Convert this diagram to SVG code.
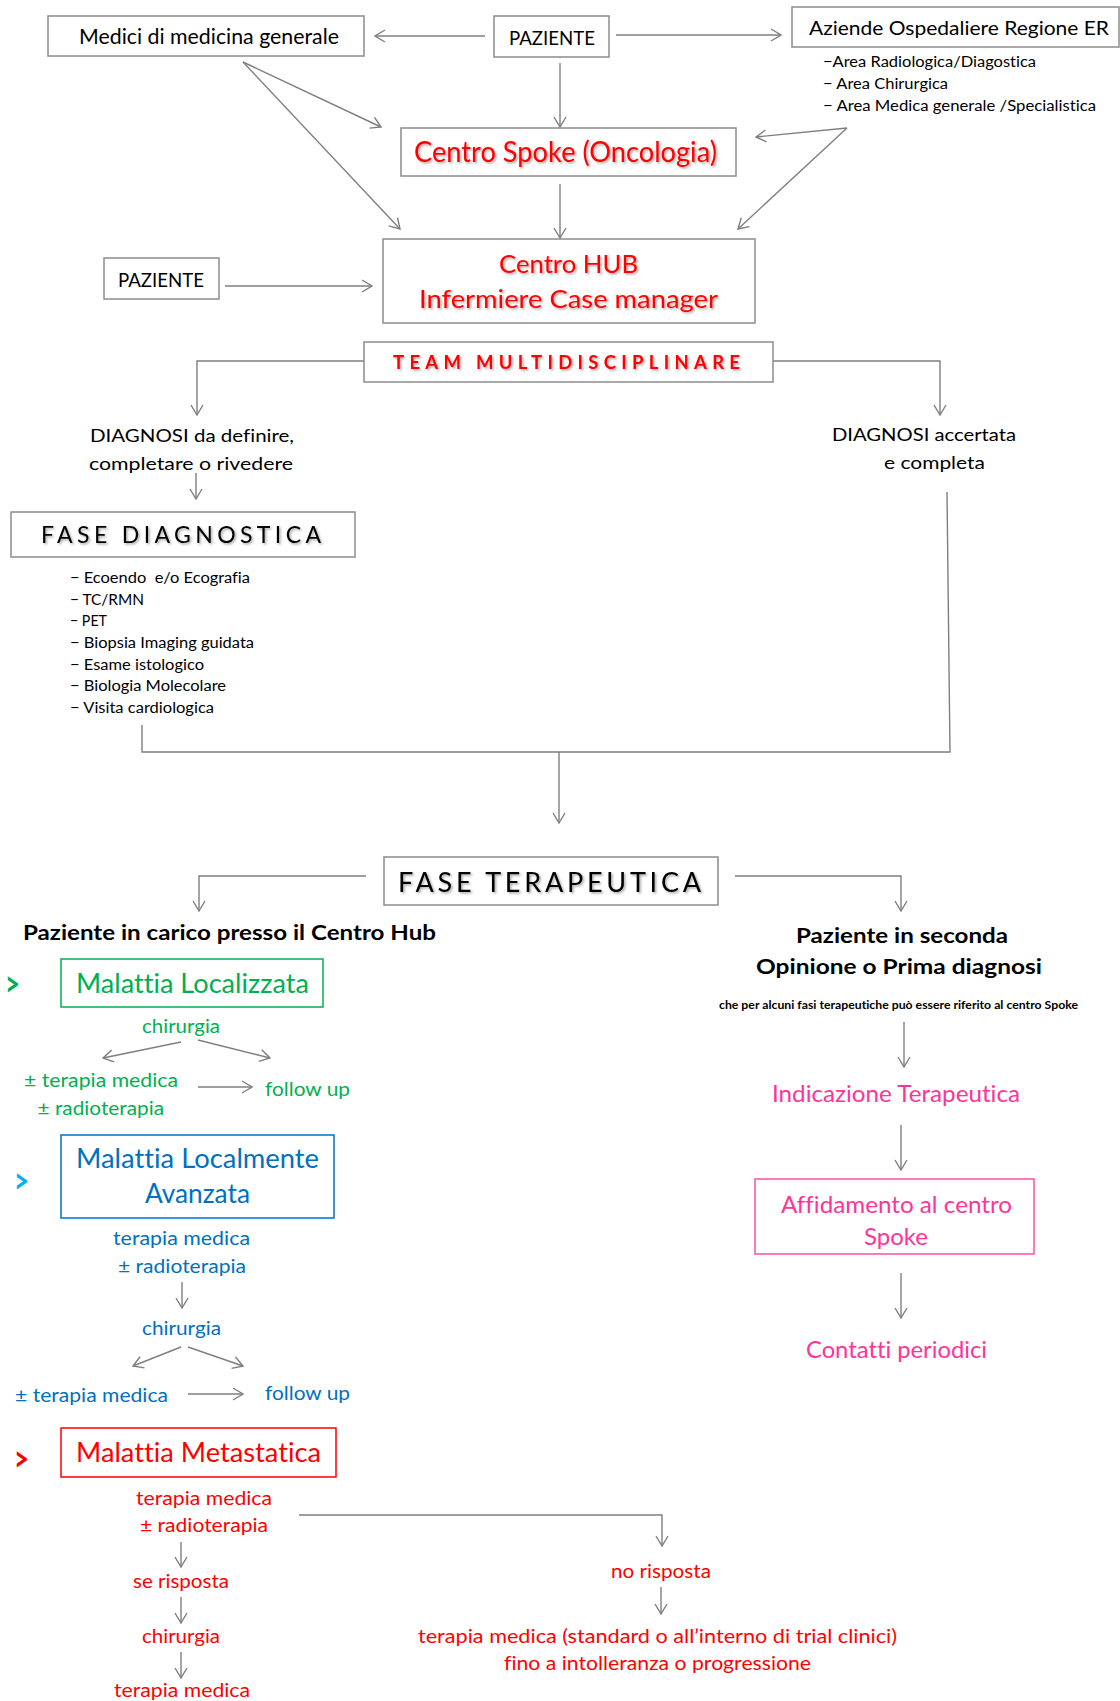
<svg xmlns="http://www.w3.org/2000/svg" width="1120" height="1701" viewBox="0 0 1120 1701">
<defs>
<style>
text{font-family:Lato,"Open Sans","Liberation Sans",sans-serif;font-variant-ligatures:none;}
.bx{fill:#fff;stroke:#8c8c8c;stroke-width:1.5;}
.ln{fill:none;stroke:#7f7f7f;stroke-width:1.4;}
.k{fill:#000;}
.r{fill:#ff0000;}
.g{fill:#00b050;}
.b{fill:#0070c0;}
.lb{fill:#00b0f0;}
.p{fill:#ff3399;}
.bold{font-weight:bold;}
.sh{filter:url(#shadow);}
.gt{font-size:34px;font-weight:bold;}
</style>
<marker id="ah" viewBox="0 0 12 14" refX="11" refY="7" markerWidth="12" markerHeight="14" markerUnits="userSpaceOnUse" orient="auto">
<path d="M1,1 L11,7 L1,13" fill="none" stroke="#7f7f7f" stroke-width="1.4"/>
</marker>
<filter id="shadow" x="-5%" y="-30%" width="110%" height="160%">
<feDropShadow dx="1.5" dy="1.5" stdDeviation="1" flood-color="#000" flood-opacity="0.35"/>
</filter>
</defs>
<rect width="1120" height="1701" fill="#fff"/>

<g id="connectors">
<line class="ln" x1="485" y1="36" x2="375" y2="36" marker-end="url(#ah)"/>
<line class="ln" x1="616" y1="35" x2="781" y2="35" marker-end="url(#ah)"/>
<line class="ln" x1="560" y1="63" x2="560" y2="127" marker-end="url(#ah)"/>
<line class="ln" x1="560" y1="184" x2="560" y2="238" marker-end="url(#ah)"/>
<line class="ln" x1="243" y1="62" x2="381" y2="127" marker-end="url(#ah)"/>
<line class="ln" x1="243" y1="62" x2="400" y2="229" marker-end="url(#ah)"/>
<line class="ln" x1="847" y1="128" x2="756" y2="137" marker-end="url(#ah)"/>
<line class="ln" x1="847" y1="128" x2="738" y2="229" marker-end="url(#ah)"/>
<line class="ln" x1="225" y1="286" x2="372" y2="286" marker-end="url(#ah)"/>
<polyline class="ln" points="364,361 197,361 197,415" marker-end="url(#ah)"/>
<polyline class="ln" points="773,361 940,361 940,415" marker-end="url(#ah)"/>
<line class="ln" x1="196" y1="473" x2="196" y2="499" marker-end="url(#ah)"/>
<polyline class="ln" points="142,725 142,752 950,752 947,492"/>
<line class="ln" x1="559" y1="752" x2="559" y2="823" marker-end="url(#ah)"/>
<polyline class="ln" points="366,876 199,876 199,911" marker-end="url(#ah)"/>
<polyline class="ln" points="735,876 901,876 901,911" marker-end="url(#ah)"/>
<line class="ln" x1="181" y1="1042" x2="103" y2="1058" marker-end="url(#ah)"/>
<line class="ln" x1="198" y1="1040" x2="270" y2="1058" marker-end="url(#ah)"/>
<line class="ln" x1="198" y1="1087" x2="252" y2="1087" marker-end="url(#ah)"/>
<line class="ln" x1="182" y1="1282" x2="182" y2="1308" marker-end="url(#ah)"/>
<line class="ln" x1="181" y1="1347" x2="133" y2="1366" marker-end="url(#ah)"/>
<line class="ln" x1="188" y1="1347" x2="243" y2="1366" marker-end="url(#ah)"/>
<line class="ln" x1="188" y1="1394" x2="243" y2="1394" marker-end="url(#ah)"/>
<line class="ln" x1="181" y1="1542" x2="181" y2="1567" marker-end="url(#ah)"/>
<line class="ln" x1="181" y1="1597" x2="181" y2="1623" marker-end="url(#ah)"/>
<line class="ln" x1="181" y1="1652" x2="181" y2="1678" marker-end="url(#ah)"/>
<polyline class="ln" points="299,1515 662,1515 662,1546" marker-end="url(#ah)"/>
<line class="ln" x1="661" y1="1587" x2="661" y2="1614" marker-end="url(#ah)"/>
<line class="ln" x1="904" y1="1022" x2="904" y2="1067" marker-end="url(#ah)"/>
<line class="ln" x1="901" y1="1125" x2="901" y2="1170" marker-end="url(#ah)"/>
<line class="ln" x1="901" y1="1273" x2="901" y2="1318" marker-end="url(#ah)"/>
</g>

<g id="medici">
<rect class="bx" x="48" y="16" width="316" height="40"/>
<text class="k" x="79" y="44" font-size="20.5" textLength="260" lengthAdjust="spacingAndGlyphs">Medici di medicina generale</text>
</g>
<g id="paziente-top">
<rect class="bx" x="494" y="16" width="115" height="41"/>
<text class="k" x="509" y="45" font-size="19.5" textLength="86" lengthAdjust="spacingAndGlyphs">PAZIENTE</text>
</g>
<g id="aziende">
<rect class="bx" x="792" y="7" width="327" height="40"/>
<text class="k" x="809" y="35" font-size="20" textLength="300" lengthAdjust="spacingAndGlyphs">Aziende Ospedaliere Regione ER</text>
<text class="k" x="823" y="67" font-size="15.5" textLength="213" lengthAdjust="spacingAndGlyphs">−Area Radiologica/Diagostica</text>
<text class="k" x="823" y="89" font-size="15.5" textLength="125" lengthAdjust="spacingAndGlyphs">− Area Chirurgica</text>
<text class="k" x="823" y="111" font-size="15.5" textLength="273" lengthAdjust="spacingAndGlyphs">− Area Medica generale /Specialistica</text>
</g>
<g id="spoke">
<rect class="bx" x="401" y="128" width="335" height="48"/>
<text class="r sh" x="414" y="162" font-size="28" textLength="303" lengthAdjust="spacingAndGlyphs">Centro Spoke (Oncologia)</text>
</g>
<g id="hub">
<rect class="bx" x="383" y="239" width="372" height="84"/>
<text class="r sh" x="499" y="273" font-size="25.5" textLength="139" lengthAdjust="spacingAndGlyphs">Centro HUB</text>
<text class="r sh" x="419" y="308" font-size="25.5" textLength="299" lengthAdjust="spacingAndGlyphs">Infermiere Case manager</text>
</g>
<g id="paziente-left">
<rect class="bx" x="104" y="258" width="115" height="41"/>
<text class="k" x="118" y="287" font-size="19.5" textLength="86" lengthAdjust="spacingAndGlyphs">PAZIENTE</text>
</g>
<g id="team">
<rect class="bx" x="364" y="342" width="409" height="40"/>
<text class="r bold sh" x="393" y="369" font-size="18.5" textLength="347" lengthAdjust="spacing">TEAM MULTIDISCIPLINARE</text>
</g>
<g id="diagnosi-da-definire">
<text class="k" x="90" y="442" font-size="17.5" textLength="204" lengthAdjust="spacingAndGlyphs">DIAGNOSI da definire,</text>
<text class="k" x="89" y="470" font-size="17.5" textLength="204" lengthAdjust="spacingAndGlyphs">completare o rivedere</text>
</g>
<g id="fase-diagnostica">
<rect class="bx" x="11" y="512" width="344" height="45"/>
<text class="k sh" x="41" y="543" font-size="23" textLength="280" lengthAdjust="spacing">FASE DIAGNOSTICA</text>
<text class="k" x="70" y="583" font-size="15.5" textLength="180" lengthAdjust="spacingAndGlyphs" xml:space="preserve">− Ecoendo  e/o Ecografia</text>
<text class="k" x="70" y="605" font-size="15.5" textLength="74" lengthAdjust="spacingAndGlyphs">− TC/RMN</text>
<text class="k" x="70" y="626" font-size="15.5" textLength="37" lengthAdjust="spacingAndGlyphs">− PET</text>
<text class="k" x="70" y="648" font-size="15.5" textLength="184" lengthAdjust="spacingAndGlyphs">− Biopsia Imaging guidata</text>
<text class="k" x="70" y="670" font-size="15.5" textLength="134" lengthAdjust="spacingAndGlyphs">− Esame istologico</text>
<text class="k" x="70" y="691" font-size="15.5" textLength="156" lengthAdjust="spacingAndGlyphs">− Biologia Molecolare</text>
<text class="k" x="70" y="713" font-size="15.5" textLength="144" lengthAdjust="spacingAndGlyphs">− Visita cardiologica</text>
</g>
<g id="diagnosi-accertata">
<text class="k" x="832" y="441" font-size="17.5" textLength="184" lengthAdjust="spacingAndGlyphs">DIAGNOSI accertata</text>
<text class="k" x="884" y="469" font-size="17.5" textLength="101" lengthAdjust="spacingAndGlyphs">e completa</text>
</g>
<g id="fase-terapeutica">
<rect class="bx" x="384" y="857" width="334" height="48"/>
<text class="k sh" x="398" y="892" font-size="27" textLength="303" lengthAdjust="spacing">FASE TERAPEUTICA</text>
</g>
<g id="paziente-hub">
<text class="k bold" x="23" y="940" font-size="21" textLength="413" lengthAdjust="spacingAndGlyphs">Paziente in carico presso il Centro Hub</text>
</g>
<g id="malattia-localizzata">
<text class="g gt" x="5" y="996" textLength="15" lengthAdjust="spacingAndGlyphs">&gt;</text>
<rect x="61" y="959" width="262" height="48" fill="#fff" stroke="#00b050" stroke-width="1.5"/>
<text class="g" x="76" y="993" font-size="27" textLength="233" lengthAdjust="spacingAndGlyphs">Malattia Localizzata</text>
<text class="g" x="142" y="1033" font-size="19.5" textLength="78" lengthAdjust="spacingAndGlyphs">chirurgia</text>
<text class="g" x="24" y="1087" font-size="19.5" textLength="154" lengthAdjust="spacingAndGlyphs">± terapia medica</text>
<text class="g" x="37.5" y="1115" font-size="19.5" textLength="126.5" lengthAdjust="spacingAndGlyphs">± radioterapia</text>
<text class="g" x="265" y="1096" font-size="19.5" textLength="85" lengthAdjust="spacingAndGlyphs">follow up</text>
</g>
<g id="malattia-localmente-avanzata">
<text class="lb gt" x="14" y="1193" textLength="15" lengthAdjust="spacingAndGlyphs">&gt;</text>
<rect x="61" y="1135" width="273" height="83" fill="#fff" stroke="#0070c0" stroke-width="1.5"/>
<text class="b" x="76" y="1168" font-size="27" textLength="243" lengthAdjust="spacingAndGlyphs">Malattia Localmente</text>
<text class="b" x="145" y="1203" font-size="27" textLength="105" lengthAdjust="spacingAndGlyphs">Avanzata</text>
<text class="b" x="113" y="1245" font-size="19.5" textLength="137" lengthAdjust="spacingAndGlyphs">terapia medica</text>
<text class="b" x="118" y="1273" font-size="19.5" textLength="128" lengthAdjust="spacingAndGlyphs">± radioterapia</text>
<text class="b" x="142" y="1335" font-size="19.5" textLength="79" lengthAdjust="spacingAndGlyphs">chirurgia</text>
<text class="b" x="15" y="1402" font-size="19.5" textLength="153" lengthAdjust="spacingAndGlyphs">± terapia medica</text>
<text class="b" x="265" y="1400" font-size="19.5" textLength="85" lengthAdjust="spacingAndGlyphs">follow up</text>
</g>
<g id="malattia-metastatica">
<text class="r gt" x="14" y="1471" textLength="15" lengthAdjust="spacingAndGlyphs">&gt;</text>
<rect x="61" y="1428" width="275" height="49" fill="#fff" stroke="#ff0000" stroke-width="1.5"/>
<text class="r" x="76" y="1462" font-size="27" textLength="245" lengthAdjust="spacingAndGlyphs">Malattia Metastatica</text>
<text class="r" x="136" y="1505" font-size="19.5" textLength="136" lengthAdjust="spacingAndGlyphs">terapia medica</text>
<text class="r" x="140" y="1532" font-size="19.5" textLength="128" lengthAdjust="spacingAndGlyphs">± radioterapia</text>
<text class="r" x="133" y="1588" font-size="19.5" textLength="96" lengthAdjust="spacingAndGlyphs">se risposta</text>
<text class="r" x="142" y="1643" font-size="19.5" textLength="78" lengthAdjust="spacingAndGlyphs">chirurgia</text>
<text class="r" x="114" y="1697" font-size="19.5" textLength="136" lengthAdjust="spacingAndGlyphs">terapia medica</text>
<text class="r" x="611" y="1578" font-size="19.5" textLength="100" lengthAdjust="spacingAndGlyphs">no risposta</text>
<text class="r" x="418" y="1643" font-size="19.5" textLength="479" lengthAdjust="spacingAndGlyphs">terapia medica (standard o all’interno di trial clinici)</text>
<text class="r" x="504" y="1670" font-size="19.5" textLength="307" lengthAdjust="spacingAndGlyphs">fino a intolleranza o progressione</text>
</g>
<g id="seconda-opinione">
<text class="k bold" x="796" y="943" font-size="21" textLength="212" lengthAdjust="spacingAndGlyphs">Paziente in seconda</text>
<text class="k bold" x="756" y="974" font-size="21" textLength="286" lengthAdjust="spacingAndGlyphs">Opinione o Prima diagnosi</text>
<text class="k bold" x="719" y="1009" font-size="11.5" textLength="359" lengthAdjust="spacingAndGlyphs">che per alcuni fasi terapeutiche può essere riferito al centro Spoke</text>
</g>
<g id="indicazione">
<text class="p" x="772" y="1102" font-size="22.5" textLength="248" lengthAdjust="spacingAndGlyphs">Indicazione Terapeutica</text>
</g>
<g id="affidamento">
<rect x="755" y="1179" width="279" height="75" fill="#fff" stroke="#ff4da6" stroke-width="1.5"/>
<text class="p" x="781" y="1213" font-size="22.5" textLength="231" lengthAdjust="spacingAndGlyphs">Affidamento al centro</text>
<text class="p" x="864" y="1245" font-size="22.5" textLength="64" lengthAdjust="spacingAndGlyphs">Spoke</text>
</g>
<g id="contatti">
<text class="p" x="806" y="1358" font-size="22.5" textLength="181" lengthAdjust="spacingAndGlyphs">Contatti periodici</text>
</g>
</svg>
